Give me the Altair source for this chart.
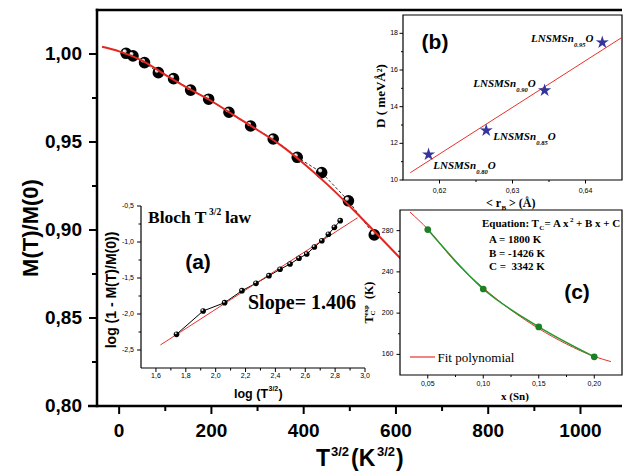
import altair as alt
import pandas as pd

# ---------------- data ----------------
# main panel: M(T)/M(0) versus T^{3/2}
main_t32 = [15, 30, 55, 85, 118, 155, 194, 238, 285, 334, 386, 439, 497, 553]
main_m = [1.0004, 0.9989, 0.9951, 0.9894, 0.9860, 0.9795, 0.9743, 0.9669,
          0.9591, 0.9517, 0.9413, 0.9326, 0.9166, 0.8972]
fit_t32 = [-37, 0, 50, 100, 150, 200, 250, 300, 350, 400, 450, 500, 553, 600, 700]
fit_m = [1.0041, 1.0015, 0.9962, 0.9882, 0.9805, 0.9733, 0.9650, 0.9568,
         0.9482, 0.9378, 0.9262, 0.9135, 0.8993, 0.8865, 0.8600]

# inset (a): log(1 - M/M0) versus log(T^{3/2})
a_logt = [1.738, 1.916, 2.060, 2.176, 2.270, 2.357, 2.431, 2.498, 2.558,
          2.610, 2.661, 2.711, 2.755, 2.795, 2.834]
a_logm = [-2.282, -1.958, -1.843, -1.676, -1.574, -1.468, -1.379, -1.306,
          -1.226, -1.167, -1.069, -0.982, -0.893, -0.796, -0.704]
a_fit_x = [1.630, 2.950]
a_fit_y = [-2.43, -0.663]

# inset (b): D versus <rB>
b_rb = [0.6185, 0.6264, 0.6344, 0.6423]
b_d = [11.39, 12.70, 14.89, 17.50]
b_fit_x = [0.6160, 0.6450]
b_fit_y = [10.4, 17.78]
b_names = ["0.80", "0.85", "0.90", "0.95"]

# inset (c): Tc versus x(Sn)
c_x = [0.05, 0.10, 0.15, 0.20]
c_tc = [281.0, 223.4, 186.6, 157.6]
c_fit_x = [0.034, 0.05, 0.075, 0.10, 0.125, 0.15, 0.175, 0.20, 0.215]
c_fit_y = [298, 281.5, 249.5, 224.5, 203, 185, 170, 158, 153]

# axis ticks and tick labels
main_xt = [0, 200, 400, 600, 800, 1000]
main_xlab = ["0", "200", "400", "600", "800", "1000"]
main_xt_minor = [100, 300, 500, 700, 900]
main_yt = [0.80, 0.85, 0.90, 0.95, 1.00]
main_ylab = ["0,80", "0,85", "0,90", "0,95", "1,00"]
main_yt_minor = [0.825, 0.875, 0.925, 0.975]
a_xt = [1.6, 1.8, 2.0, 2.2, 2.4, 2.6, 2.8, 3.0]
a_xlab = ["1,6", "1,8", "2,0", "2,2", "2,4", "2,6", "2,8", "3,0"]
a_xt_minor = [1.7, 1.9, 2.1, 2.3, 2.5, 2.7, 2.9]
a_yt = [-0.5, -1.0, -1.5, -2.0, -2.5]
a_ylab = ["-0,5", "-1,0", "-1,5", "-2,0", "-2,5"]
a_yt_minor = [-0.75, -1.25, -1.75, -2.25]
b_xt = [0.62, 0.63, 0.64]
b_xlab = ["0,62", "0,63", "0,64"]
b_xt_minor = [0.625, 0.635]
b_yt = [10, 12, 14, 16, 18]
b_ylab = ["10", "12", "14", "16", "18"]
b_yt_minor = [11, 13, 15, 17]
c_xt = [0.05, 0.10, 0.15, 0.20]
c_xlab = ["0,05", "0,10", "0,15", "0,20"]
c_xt_minor = [0.075, 0.125, 0.175]
c_yt = [160, 200, 240, 280]
c_ylab = ["160", "200", "240", "280"]
c_yt_minor = [180, 220, 260]

# ---------------- layout ----------------
PL, PT, W, H = 97, 10, 525, 396
SANS = "Liberation Sans"
SERIF = "Liberation Serif"

main_xdom, main_ydom = [-48, 1090], [0.80, 1.025]
a_xdom, a_ydom, a_xr, a_yr = [1.5, 3.0], [-2.75, -0.5], [44, 268], [358, 196]
b_xdom, b_ydom, b_xr, b_yr = [0.615, 0.645], [10, 19], [306, 525], [170, 5]
c_xdom, c_ydom, c_xr, c_yr = [0.025, 0.225], [140, 300], [303, 525], [365, 200]

ONE = pd.DataFrame({"k": [0]})


def text(s, x, y, size, font=SERIF, weight="bold", style="normal", angle=0,
         align="left", baseline="alphabetic", color="black"):
    return alt.Chart(ONE).mark_text(
        text=s, font=font, fontSize=size, fontWeight=weight, fontStyle=style,
        angle=angle, align=align, baseline=baseline, color=color
    ).encode(x=alt.value(x - PL), y=alt.value(y - PT))


def seg(x1, y1, x2, y2, width=1.0, color="black"):
    return alt.Chart(ONE).mark_rule(color=color, strokeWidth=width).encode(
        x=alt.value(x1), y=alt.value(y1), x2=alt.value(x2), y2=alt.value(y2))


def xaxis(vals, labels, scale, y0, tick, width, lab_dy, size, weight="normal"):
    df = pd.DataFrame({"v": vals, "lab": labels})
    xx = alt.X("v:Q", scale=scale, axis=None)
    ticks = alt.Chart(df).mark_rule(color="black", strokeWidth=width).encode(
        x=xx, y=alt.value(y0), y2=alt.value(y0 + tick))
    labs = alt.Chart(df).mark_text(font=SANS, fontSize=size, fontWeight=weight,
                                   align="center", baseline="middle", color="black").encode(
        x=xx, y=alt.value(y0 + lab_dy), text="lab:N")
    return [ticks, labs]


def xminor(vals, scale, y0, tick, width=1.0):
    df = pd.DataFrame({"v": vals})
    return alt.Chart(df).mark_rule(color="black", strokeWidth=width).encode(
        x=alt.X("v:Q", scale=scale, axis=None), y=alt.value(y0), y2=alt.value(y0 + tick))


def yaxis(vals, labels, scale, x0, tick, width, lab_dx, size, weight="normal"):
    df = pd.DataFrame({"v": vals, "lab": labels})
    yy = alt.Y("v:Q", scale=scale, axis=None)
    ticks = alt.Chart(df).mark_rule(color="black", strokeWidth=width).encode(
        y=yy, x=alt.value(x0), x2=alt.value(x0 - tick))
    labs = alt.Chart(df).mark_text(font=SANS, fontSize=size, fontWeight=weight,
                                   align="right", baseline="middle", color="black").encode(
        y=yy, x=alt.value(x0 - lab_dx), text="lab:N")
    return [ticks, labs]


def yminor(vals, scale, x0, tick, width=1.0):
    df = pd.DataFrame({"v": vals})
    return alt.Chart(df).mark_rule(color="black", strokeWidth=width).encode(
        y=alt.Y("v:Q", scale=scale, axis=None), x=alt.value(x0), x2=alt.value(x0 - tick))


# ---------------- main panel ----------------
msx = alt.Scale(domain=main_xdom, nice=False, zero=False)
msy = alt.Scale(domain=main_ydom, nice=False, zero=False)
df_main = pd.DataFrame({"x": main_t32, "y": main_m})
df_fit = pd.DataFrame({"x": fit_t32, "y": fit_m})
mX = alt.X("x:Q", scale=msx, axis=None)
mY = alt.Y("y:Q", scale=msy, axis=None)

main = alt.layer(
    alt.Chart(df_main).mark_line(color="black", strokeWidth=0.8, strokeDash=[3, 2]).encode(x=mX, y=mY),
    alt.Chart(df_main).mark_circle(size=135, color="black", opacity=1).encode(x=mX, y=mY),
    alt.Chart(df_main).mark_circle(size=16, color="#cfcfcf", opacity=1, xOffset=-1.5, yOffset=-2).encode(x=mX, y=mY),
    alt.Chart(df_main).mark_circle(size=3, color="white", opacity=1, xOffset=-2, yOffset=-2.5).encode(x=mX, y=mY),
    alt.Chart(df_fit).mark_line(color="#e3261f", strokeWidth=2, interpolate="monotone").encode(x=mX, y=mY),
    *xaxis(main_xt, main_xlab, msx, H, 8, 2, 25, 19, "bold"),
    xminor(main_xt_minor, msx, H, 5, 2),
    *yaxis(main_yt, main_ylab, msy, 0, 8, 2, 15, 19, "bold"),
    yminor(main_yt_minor, msy, 0, 5, 2),
)

# ---------------- inset (a) ----------------
asx = alt.Scale(domain=a_xdom, range=a_xr, nice=False, zero=False)
asy = alt.Scale(domain=a_ydom, range=a_yr, nice=False, zero=False)
aX = alt.X("x:Q", scale=asx, axis=None)
aY = alt.Y("y:Q", scale=asy, axis=None)
df_a = pd.DataFrame({"x": a_logt, "y": a_logm})
df_afit = pd.DataFrame({"x": a_fit_x, "y": a_fit_y})
inset_a = alt.layer(
    alt.Chart(df_a).mark_line(color="black", strokeWidth=1).encode(x=aX, y=aY),
    alt.Chart(df_afit).mark_line(color="#e8322a", strokeWidth=1).encode(x=aX, y=aY),
    alt.Chart(df_a).mark_circle(size=32, color="black", opacity=1).encode(x=aX, y=aY),
    alt.Chart(df_a).mark_circle(size=4, color="#dddddd", opacity=1, xOffset=-0.8, yOffset=-1).encode(x=aX, y=aY),
    *xaxis(a_xt, a_xlab, asx, a_yr[0], 4, 1, 8, 7),
    xminor(a_xt_minor, asx, a_yr[0], 2.5),
    *yaxis(a_yt, a_ylab, asy, a_xr[0], 4, 1, 7, 7),
    yminor(a_yt_minor, asy, a_xr[0], 2.5),
)

# ---------------- inset (b) ----------------
bsx = alt.Scale(domain=b_xdom, range=b_xr, nice=False, zero=False)
bsy = alt.Scale(domain=b_ydom, range=b_yr, nice=False, zero=False)
bX = alt.X("x:Q", scale=bsx, axis=None)
bY = alt.Y("y:Q", scale=bsy, axis=None)
df_bbox = pd.DataFrame({"x": [b_xdom[0]], "x2": [b_xdom[1]], "y": [b_ydom[0]], "y2": [b_ydom[1]]})
df_b = pd.DataFrame({"x": b_rb, "y": b_d, "name": b_names})
df_bfit = pd.DataFrame({"x": b_fit_x, "y": b_fit_y})
STAR = ("M0,-1L0.2234,-0.3074L0.9511,-0.309L0.3614,0.1174L0.5878,0.809L0,0.38"
        "L-0.5878,0.809L-0.3614,0.1174L-0.9511,-0.309L-0.2234,-0.3074Z")
inset_b = alt.layer(
    alt.Chart(df_bbox).mark_rect(fill="white", stroke="black", strokeWidth=1.2).encode(x=bX, x2="x2:Q", y=bY, y2="y2:Q"),
    alt.Chart(df_bfit).mark_line(color="#e8322a", strokeWidth=1).encode(x=bX, y=bY),
    alt.Chart(df_b).mark_point(shape=STAR, filled=True, size=190, color="#34349c", opacity=1).encode(x=bX, y=bY),
    *xaxis(b_xt, b_xlab, bsx, b_yr[0], 3.5, 1, 10.5, 7),
    xminor(b_xt_minor, bsx, b_yr[0], 2),
    *yaxis(b_yt, b_ylab, bsy, b_xr[0], 3.5, 1, 5, 7),
    yminor(b_yt_minor, bsy, b_xr[0], 2),
)

# ---------------- inset (c) ----------------
csx = alt.Scale(domain=c_xdom, range=c_xr, nice=False, zero=False)
csy = alt.Scale(domain=c_ydom, range=c_yr, nice=False, zero=False)
cX = alt.X("x:Q", scale=csx, axis=None)
cY = alt.Y("y:Q", scale=csy, axis=None)
df_cbox = pd.DataFrame({"x": [c_xdom[0]], "x2": [c_xdom[1]], "y": [c_ydom[0]], "y2": [c_ydom[1]]})
df_c = pd.DataFrame({"x": c_x, "y": c_tc})
df_cfit = pd.DataFrame({"x": c_fit_x, "y": c_fit_y})
inset_c = alt.layer(
    alt.Chart(df_cbox).mark_rect(fill="white", stroke="black", strokeWidth=1.2).encode(x=cX, x2="x2:Q", y=cY, y2="y2:Q"),
    alt.Chart(df_cfit).mark_line(color="#e8322a", strokeWidth=1, interpolate="monotone").encode(x=cX, y=cY),
    alt.Chart(df_c).mark_line(color="#1f9a2a", strokeWidth=1.5, interpolate="monotone").encode(x=cX, y=cY),
    alt.Chart(df_c).mark_circle(size=45, color="#1f7f25", opacity=1).encode(x=cX, y=cY),
    *xaxis(c_xt, c_xlab, csx, c_yr[0], 3.5, 1, 9, 7),
    xminor(c_xt_minor, csx, c_yr[0], 2),
    *yaxis(c_yt, c_ylab, csy, c_xr[0], 3.5, 1, 6.5, 7),
    yminor(c_yt_minor, csy, c_xr[0], 2),
)

# ---------------- frame lines & annotations ----------------
frames = [
    seg(-1.2, 0, W, 0, 2.5),            # main top border
    seg(0, -1.2, 0, H + 1.2, 2.5),      # main left axis line
    seg(-9, H, W, H, 2.5),              # main bottom axis line
    seg(a_xr[0], a_yr[1], a_xr[0], a_yr[0], 1.2),   # inset (a) left axis line
    seg(a_xr[0], a_yr[0], a_xr[1], a_yr[0], 1.2),   # inset (a) bottom axis line
    seg(410 - PL, 357 - PT, 435 - PL, 357 - PT, 1.2, "#e8322a"),  # legend sample
]

texts = [
    # main titles
    text("M(T)/M(0)", 31, 228, 22, font=SANS, angle=270, align="center", baseline="middle"),
    text("T", 316, 466, 23, font=SANS),
    text("3/2", 331, 456, 13, font=SANS),
    text("(K", 351, 466, 23, font=SANS),
    text("3/2", 377, 456, 13, font=SANS),
    text(")", 396, 466, 23, font=SANS),
    # inset (a)
    text("Bloch T", 148, 223, 17.5),
    text("3/2", 209, 214.5, 9.5),
    text("law", 225, 223, 17.5),
    text("(a)", 198, 263, 21, font=SANS, align="center", baseline="middle"),
    text("Slope= 1.406", 302, 303, 20, align="center", baseline="middle"),
    text("log (1 - M(T)/M(0))", 112, 290, 14, font=SANS, angle=270, align="center", baseline="middle"),
    text("log (T", 234, 397.5, 12.5, font=SANS),
    text("3/2", 268.5, 391, 7, font=SANS),
    text(")", 278.5, 397.5, 12.5, font=SANS),
    # inset (b)
    text("(b)", 435, 43, 21, font=SANS, align="center", baseline="middle"),
    text("D ( meV\u00c5\u00b2)", 381, 96, 13, angle=270, align="center", baseline="middle"),
    text("< r", 486, 207, 12),
    text("B", 501.5, 210, 7),
    text("> (\u00c5)", 509, 207, 12),
    text("x (Sn)", 515, 399.5, 11, align="center"),
    # inset (c)
    text("Equation: T", 482, 226.5, 11),
    text("C", 539.2, 229.5, 7),
    text("= A x", 544.5, 226.5, 11),
    text("2", 570, 221.5, 7),
    text("+ B x + C", 576, 226.5, 11),
    text("A = 1800 K", 489, 242.7, 11),
    text("B = -1426 K", 489, 257, 11),
    text("C =\u00a0 3342 K", 489, 270, 11),
    text("(c)", 577, 293, 21, font=SANS, align="center", baseline="middle"),
    text("Fit polynomial", 437.5, 361.5, 13, weight="normal"),
    text("T", 372.5, 323.5, 12, angle=270),
    text("C", 375, 315.5, 7, angle=270),
    text("exp", 368, 315.5, 7, angle=270),
    text("(K)", 372.5, 299, 12, angle=270),
]

# LNSMSn labels in inset (b): (start x, baseline) of each label
lab_pos = [(433.3, 169), (493.3, 140), (473.3, 87), (531, 42)]
for (x0, yb), nm in zip(lab_pos, b_names):
    texts.append(text("LNSMSn", x0, yb, 11, style="italic"))
    texts.append(text(nm, x0 + 43, yb + 4.6, 6.5, style="italic"))
    texts.append(text("O", x0 + 54.5, yb, 11, style="italic"))

chart = alt.layer(
    main, inset_a, inset_b, inset_c, *frames, *texts
).resolve_scale(
    x="independent", y="independent"
).properties(
    width=W, height=H,
    padding={"left": PL, "top": PT, "right": 623 - PL - W, "bottom": 474 - PT - H},
    autosize=alt.AutoSizeParams(type="none"),
    background="white",
).configure_view(stroke="transparent")

chart.save("out.html", embed_options={"renderer": "svg", "actions": False})
